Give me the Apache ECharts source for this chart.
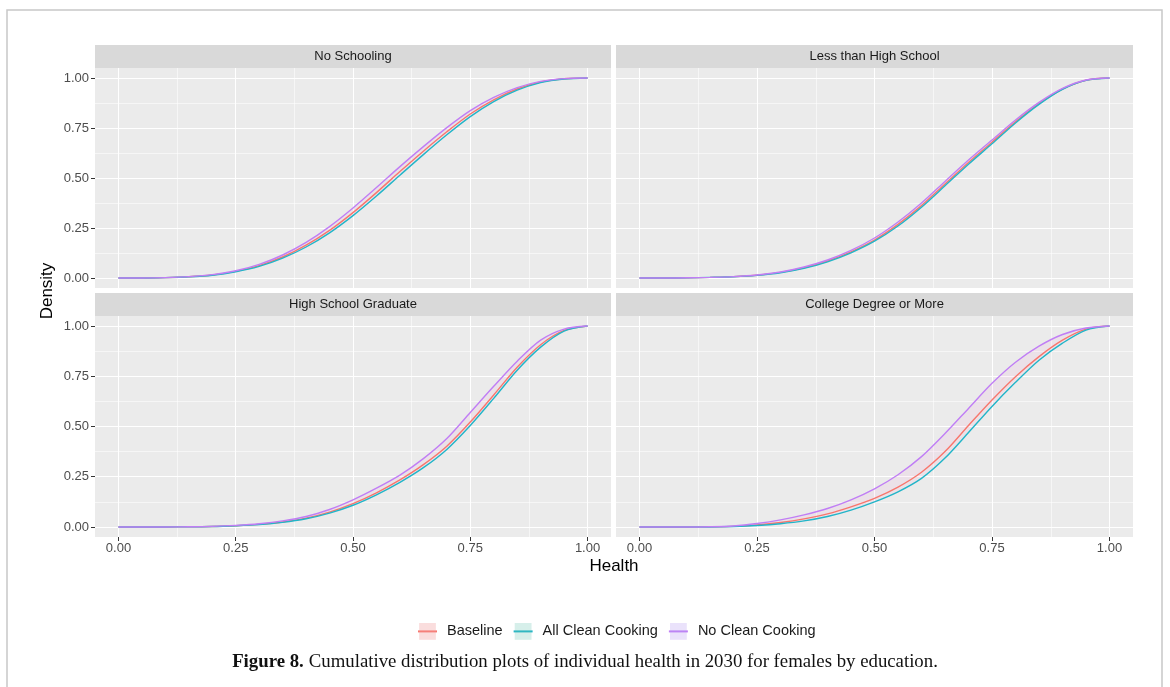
<!DOCTYPE html>
<html><head><meta charset="utf-8">
<script src="https://cdn.jsdelivr.net/npm/echarts@6/dist/echarts.min.js"></script>
<style>html,body{margin:0;padding:0;background:#fff;}#c{width:1170px;height:687px;}</style>
</head><body><div id="c"></div>
<script>
// ---------- data ----------
const health = [0,0.05,0.1,0.15,0.2,0.25,0.3,0.35,0.4,0.45,0.5,0.55,0.6,0.65,0.7,0.75,0.8,0.85,0.9,0.95,1];
const panelTitles = ['No Schooling','Less than High School','High School Graduate','College Degree or More'];
const seriesNames = ['Baseline','All Clean Cooking','No Clean Cooking'];
const xTicks = [0,0.25,0.5,0.75,1];
const yTicks = [0,0.25,0.5,0.75,1];
const minorTicks = [0.125,0.375,0.625,0.875];
const xTitle = 'Health';
const yTitle = 'Density';
const captionBold = 'Figure 8.';
const captionText = 'Cumulative distribution plots of individual health in 2030 for females by education.';

const noSchoolingBaseline = [0,0,0.002,0.006,0.015,0.033,0.062,0.105,0.164,0.238,0.327,0.427,0.532,0.634,0.731,0.82,0.891,0.945,0.98,0.996,1];
const noSchoolingAllClean = [0,0,0.002,0.006,0.014,0.031,0.058,0.099,0.155,0.226,0.312,0.41,0.514,0.617,0.716,0.807,0.882,0.939,0.977,0.995,1];
const noSchoolingNoClean  = [0,0,0.002,0.007,0.017,0.036,0.068,0.115,0.178,0.257,0.35,0.452,0.557,0.657,0.752,0.837,0.903,0.952,0.983,0.997,1];

const lessHSBaseline = [0,0,0.001,0.003,0.007,0.014,0.028,0.051,0.085,0.131,0.19,0.268,0.362,0.47,0.578,0.679,0.781,0.872,0.945,0.989,1];
const lessHSAllClean = [0,0,0.001,0.003,0.006,0.013,0.026,0.048,0.081,0.126,0.184,0.26,0.354,0.461,0.569,0.671,0.775,0.868,0.943,0.988,1];
const lessHSNoClean  = [0,0,0.001,0.003,0.007,0.015,0.03,0.055,0.09,0.138,0.2,0.28,0.375,0.483,0.59,0.69,0.79,0.878,0.948,0.99,1];

const hsGradBaseline = [0,0,0,0.001,0.002,0.006,0.013,0.025,0.044,0.074,0.116,0.17,0.234,0.31,0.402,0.522,0.657,0.795,0.907,0.978,1];
const hsGradAllClean = [0,0,0,0.001,0.002,0.006,0.012,0.023,0.041,0.069,0.108,0.16,0.222,0.295,0.386,0.505,0.64,0.78,0.895,0.975,1];
const hsGradNoClean  = [0,0,0,0.001,0.003,0.008,0.016,0.03,0.052,0.087,0.135,0.193,0.258,0.34,0.44,0.57,0.7,0.825,0.93,0.985,1];

const collegeBaseline = [0,0,0,0.001,0.003,0.01,0.022,0.04,0.065,0.1,0.142,0.198,0.272,0.375,0.505,0.632,0.748,0.848,0.93,0.985,1];
const collegeAllClean = [0,0,0,0,0.002,0.007,0.016,0.03,0.052,0.084,0.125,0.175,0.242,0.343,0.47,0.6,0.72,0.83,0.915,0.98,1];
const collegeNoClean  = [0,0,0,0.001,0.005,0.017,0.035,0.06,0.092,0.135,0.19,0.26,0.35,0.465,0.59,0.715,0.82,0.9,0.958,0.99,1];

const panelData = [
  [noSchoolingBaseline, noSchoolingAllClean, noSchoolingNoClean],
  [lessHSBaseline, lessHSAllClean, lessHSNoClean],
  [hsGradBaseline, hsGradAllClean, hsGradNoClean],
  [collegeBaseline, collegeAllClean, collegeNoClean]
];

// ---------- style / layout ----------
const lineColors = ['#F8766D', '#22B5C8', '#C07EF5'];
const keyFills = ['rgba(240,150,150,0.32)', 'rgba(90,190,170,0.25)', 'rgba(180,150,240,0.28)'];
const gLeft = [95, 616], gWidth = [516, 517], gTop = [68, 316], gHeight = [220, 221];
const stripH = 23;
const FONT = '"Liberation Sans", Arial, sans-serif';
const SERIF = '"Liberation Serif", "DejaVu Serif", serif';

const grids = [], xAxes = [], yAxes = [], series = [], graphics = [];
for (let i = 0; i < 4; i++) {
  const col = i % 2, row = Math.floor(i / 2);
  grids.push({left: gLeft[col], top: gTop[row], width: gWidth[col], height: gHeight[row],
    show: true, backgroundColor: '#EBEBEB', borderWidth: 0, containLabel: false});
  const fmt = v => v.toFixed(2);
  xAxes.push({type: 'value', gridIndex: i, min: -0.05, max: 1.05, position: 'bottom',
    axisLine: {show: false, onZero: false},
    axisTick: {show: row === 1, customValues: xTicks, length: 4, lineStyle: {color: '#333', width: 1}},
    axisLabel: {show: row === 1, customValues: xTicks, formatter: fmt, color: '#4D4D4D', fontSize: 13, margin: 5, fontFamily: FONT},
    splitLine: {show: true, lineStyle: {color: '#FFFFFF', width: 1.1}}});
  xAxes.push({type: 'value', gridIndex: i, min: -0.05, max: 1.05, position: 'bottom',
    axisLine: {show: false, onZero: false},
    axisTick: {show: false, customValues: minorTicks},
    axisLabel: {show: false, customValues: minorTicks},
    splitLine: {show: true, lineStyle: {color: '#FFFFFF', width: 0.55}}});
  yAxes.push({type: 'value', gridIndex: i, min: -0.05, max: 1.05, position: 'left',
    axisLine: {show: false, onZero: false},
    axisTick: {show: col === 0, customValues: yTicks, length: 4, lineStyle: {color: '#333', width: 1}},
    axisLabel: {show: col === 0, customValues: yTicks, formatter: fmt, color: '#4D4D4D', fontSize: 13, margin: 6, fontFamily: FONT},
    splitLine: {show: true, lineStyle: {color: '#FFFFFF', width: 1.1}}});
  yAxes.push({type: 'value', gridIndex: i, min: -0.05, max: 1.05, position: 'left',
    axisLine: {show: false, onZero: false},
    axisTick: {show: false, customValues: minorTicks},
    axisLabel: {show: false, customValues: minorTicks},
    splitLine: {show: true, lineStyle: {color: '#FFFFFF', width: 0.55}}});

  const d = panelData[i];
  // faint ribbon between All Clean Cooking and No Clean Cooking curves
  series.push({type: 'custom', xAxisIndex: 2 * i, yAxisIndex: 2 * i, silent: true, z: 1,
    data: [[0, 0]],
    renderItem: (params, api) => {
      const upper = health.map((x, k) => api.coord([x, d[2][k]]));
      const lower = health.map((x, k) => api.coord([x, d[1][k]])).reverse();
      return {type: 'polygon', shape: {points: upper.concat(lower), smooth: 0.3},
        style: {fill: 'rgba(235,150,205,0.11)'}};
    }});
  for (let s = 0; s < 3; s++) {
    series.push({type: 'line', name: seriesNames[s], xAxisIndex: 2 * i, yAxisIndex: 2 * i,
      smooth: 0.3, symbol: 'rect', showSymbol: false, z: 3 + (s === 1 ? 0 : s),
      itemStyle: {color: keyFills[s]},
      lineStyle: {color: lineColors[s], width: 1.4},
      emphasis: {disabled: true},
      data: health.map((x, k) => [x, d[s][k]])});
  }
  graphics.push({type: 'rect', left: gLeft[col], top: gTop[row] - stripH,
    shape: {width: gWidth[col], height: stripH}, style: {fill: '#D9D9D9'}, silent: true});
  graphics.push({type: 'text', x: gLeft[col] + gWidth[col] / 2, y: gTop[row] - stripH / 2,
    style: {text: panelTitles[i], fill: '#1A1A1A', font: '13px ' + FONT, align: 'center', verticalAlign: 'middle'}, silent: true});
}

graphics.push({type: 'rect', shape: {x: 7, y: 10, width: 1155, height: 720},
  style: {fill: 'none', stroke: '#C8C8C8', lineWidth: 1.5}, silent: true, z: -10});
graphics.push({type: 'text', x: (gLeft[0] + gLeft[1] + gWidth[1]) / 2, y: 566,
  style: {text: xTitle, fill: '#000', font: '17px ' + FONT, align: 'center', verticalAlign: 'middle'}, silent: true});
graphics.push({type: 'text', x: 47, y: (gTop[0] - stripH + gTop[1] + gHeight[1]) / 2, rotation: Math.PI / 2,
  style: {text: yTitle, fill: '#000', font: '17px ' + FONT, align: 'center', verticalAlign: 'middle'}, silent: true});

const chart = echarts.init(document.getElementById('c'), null, {renderer: 'canvas'});
chart.setOption({
  animation: false,
  backgroundColor: '#FFFFFF',
  grid: grids, xAxis: xAxes, yAxis: yAxes, series: series,
  legend: {data: seriesNames, left: 417, top: 623, padding: 0, itemWidth: 19, itemHeight: 21, itemGap: 10,
    selectedMode: false,
    textStyle: {color: '#1A1A1A', fontSize: 14.5, fontFamily: FONT, padding: [0, 0, 0, 5]}},
  title: {text: '{b|' + captionBold + '} {n|' + captionText + '}', left: 'center', top: 648,
    textStyle: {fontWeight: 'normal', rich: {
      b: {fontFamily: SERIF, fontWeight: 'bold', fontSize: 18.8, color: '#111'},
      n: {fontFamily: SERIF, fontWeight: 'normal', fontSize: 18.8, color: '#111'}}}},
  graphic: graphics
});
</script>
</body></html>
